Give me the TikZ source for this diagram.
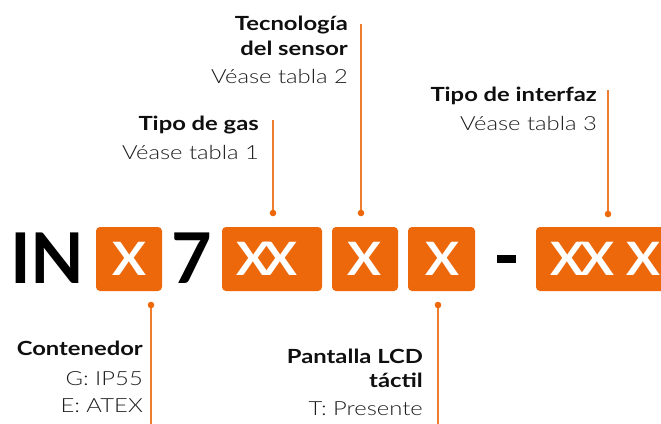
\documentclass[tikz,border=0pt]{standalone}
\usepackage{fontspec}
\setmainfont{Lato}[FakeStretch=1.22]
\newfontfamily\bigf{Lato}
\newfontfamily\boxf{Lato}[FakeStretch=1.1]
\newfontfamily\lightf{Lato Light}[FakeStretch=1.22]
\definecolor{brand}{RGB}{236,104,10}
\definecolor{leadc}{RGB}{240,125,45}
\definecolor{txtgray}{RGB}{28,28,28}
\definecolor{txtblack}{RGB}{15,15,15}
\tikzset{
  codebox/.style={fill=brand, rounded corners=4pt, minimum height=64pt, inner sep=0pt},
  boxx/.style={text=white, font=\boxf\bfseries\fontsize{46}{46}\selectfont, inner sep=0pt, anchor=base},
  bigtxt/.style={font=\bigf\bfseries\fontsize{70}{70}\selectfont, text=black, inner sep=0pt},
  lbl/.style={font=\bfseries\fontsize{19.5}{20}\selectfont, text=txtblack, inner sep=0pt, anchor=base east},
  sub/.style={font=\lightf\fontsize{19.5}{20}\selectfont, text=txtgray, inner sep=0pt, anchor=base east},
  lead/.style={draw=leadc, line width=1.3pt},
  dotc/.style={fill=brand}
}
\begin{document}
\begin{tikzpicture}[x=1pt,y=-1pt]
\useasboundingbox (0,0) rectangle (661,423);
\clip (0,0) rectangle (661,423);
% code
\node[bigtxt, anchor=base west] (IN) at (10,283) {IN};
\node[codebox, minimum width=66pt] (b1) at (129,259) {};
\node[boxx] (x1) at (129,275) {X};
\node[bigtxt, anchor=base west] (seven) at (171,283) {7};
\node[codebox, minimum width=100pt] (b2) at (272,259) {};
\node[boxx] (x2a) at (253.5,275) {X};
\node[boxx] (x2b) at (280,275) {X};
\node[codebox, minimum width=66pt] (b3) at (365,259) {};
\node[boxx] (x3) at (364,275) {X};
\node[codebox, minimum width=67pt] (b4) at (441.5,259) {};
\node[boxx] (x4) at (442,275) {X};
\node[fill=black, minimum width=19pt, minimum height=8pt, inner sep=0pt] (dash) at (506.5,259) {};
\node[codebox, minimum width=136pt] (b5) at (604,259) {};
\node[boxx] (x5a) at (567.5,275) {X};
\node[boxx] (x5b) at (597.5,275) {X};
\node[boxx] (x5c) at (643.5,275) {X};
% leader coordinates
\coordinate (g1) at (273,120); \coordinate (d1) at (273,213);
\coordinate (g2) at (361,24);  \coordinate (d2) at (361,213);
\coordinate (g3) at (608,90);  \coordinate (d3) at (608,214);
\coordinate (g4) at (151,430); \coordinate (d4) at (151,305);
\coordinate (g5) at (438,430); \coordinate (d5) at (438,305);
\foreach \i in {1,...,5}{
  \draw[lead] (g\i) -- (d\i);
  \fill[dotc] (d\i) circle (3.3pt);
}
% labels
\node[lbl] (tg) at (259,130) {Tipo de gas};
\node[sub] (tg2) at (259,159) {Véase tabla 1};
\node[lbl] (ts1) at (348,30) {Tecnología};
\node[lbl] (ts2) at (348,55) {del sensor};
\node[sub] (ts3) at (348,83) {Véase tabla 2};
\node[lbl] (ti) at (597,101) {Tipo de interfaz};
\node[sub] (ti2) at (597,130) {Véase tabla 3};
\node[lbl] (co) at (143,355) {Contenedor};
\node[sub] (co2) at (143,385) {G: IP55};
\node[sub] (co3) at (143,412) {E: ATEX};
\node[lbl] (pl1) at (423,363) {Pantalla LCD};
\node[lbl] (pl2) at (423,387) {táctil};
\node[sub] (pl3) at (423,415) {T: Presente};
\end{tikzpicture}
\end{document}
